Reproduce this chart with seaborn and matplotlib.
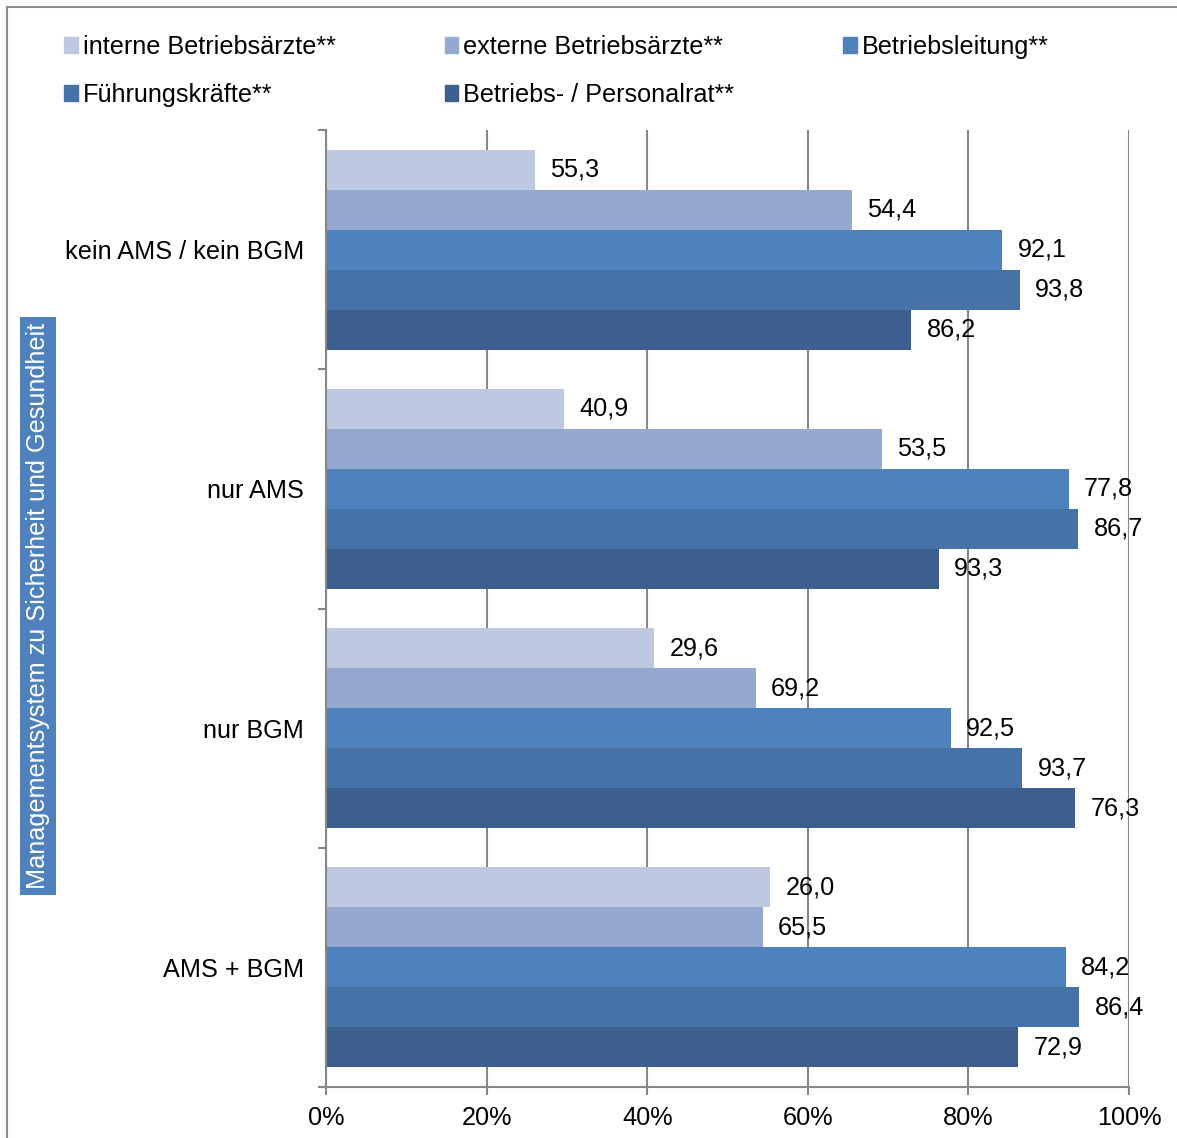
import numpy as np
import pandas as pd
import matplotlib
matplotlib.use("Agg")
import matplotlib.pyplot as plt
import matplotlib.patches as mpatches
import seaborn as sns

categories = ["kein AMS / kein BGM", "nur AMS", "nur BGM", "AMS + BGM"]
series = ["interne Betriebsärzte**", "externe Betriebsärzte**", "Betriebsleitung**",
          "Führungskräfte**", "Betriebs- / Personalrat**"]
colors = ["#BCC9E1", "#95A9D0", "#4F81BD", "#4572A7", "#3C5F8E"]

# values as printed next to the bars (per series, in category order)
interne = [55.3, 40.9, 29.6, 26.0]
externe = [54.4, 53.5, 69.2, 65.5]
leitung = [92.1, 77.8, 92.5, 84.2]
fuehrung = [93.8, 86.7, 93.7, 86.4]
rat = [86.2, 93.3, 76.3, 72.9]
printed = [interne, externe, leitung, fuehrung, rat]

# the original chart draws the bars in reversed category order vs. its labels
rows = []
for s, vals in zip(series, printed):
    for cat, v in zip(categories, vals[::-1]):
        rows.append({"group": cat, "series": s, "value": v})
df = pd.DataFrame(rows)

sns.set_theme(style="white")
plt.rcParams["font.family"] = ["Liberation Sans", "DejaVu Sans"]
plt.rcParams["text.color"] = "black"
plt.rcParams["xtick.color"] = "black"
plt.rcParams["ytick.color"] = "black"
grid_col = "#878787"
fs = 18.2

fig = plt.figure(figsize=(11.77, 11.38), dpi=100)
ax = fig.add_axes([326 / 1177, 1 - 1087 / 1138, (1129 - 326) / 1177, (1087 - 130) / 1138])

sns.barplot(data=df, x="value", y="group", hue="series", order=categories,
            hue_order=series, palette=colors, orient="h", width=0.836,
            linewidth=0, saturation=1, ax=ax, legend=False)

for cont, vals in zip(ax.containers, printed):
    ax.bar_label(cont, labels=[f"{v:.1f}".replace(".", ",") for v in vals],
                 padding=11, fontsize=fs, color="black")

ax.set_xlim(0, 100)
ax.set_ylim(3.5, -0.5)
ax.set_xticks(np.arange(0, 101, 20))
ax.set_xticklabels([f"{t}%" for t in range(0, 101, 20)], fontsize=fs)
ax.set_yticks(range(len(categories)))
ax.set_yticklabels(categories, fontsize=fs)
ax.set_yticks(np.arange(-0.5, 4, 1), minor=True)
ax.tick_params(axis="y", which="major", length=0, pad=16, labelcolor="black")
ax.tick_params(axis="y", which="minor", length=6, width=1.5, color=grid_col, left=True)
ax.tick_params(axis="x", length=6, width=1.5, color=grid_col, bottom=True, pad=8,
               labelcolor="black")
ax.set_xlabel("")
ax.set_ylabel("")
ax.grid(axis="x", color=grid_col, linewidth=1.5)
ax.set_axisbelow(True)
for side in ["top", "right"]:
    ax.spines[side].set_visible(False)
for side in ["left", "bottom"]:
    ax.spines[side].set_color(grid_col)
    ax.spines[side].set_linewidth(1.5)

# legend, row-major order as in the original
handles = [mpatches.Patch(color=c, label=s) for s, c in zip(series, colors)]
order = [0, 3, 1, 4, 2]
fig.legend([handles[i] for i in order], [series[i] for i in order],
           loc="upper left", bbox_to_anchor=(64 / 1177, 1 - 35 / 1138), ncol=3,
           frameon=False, fontsize=fs, handlelength=0.55, handleheight=0.55,
           handletextpad=0.2, columnspacing=4.3, labelspacing=0.95, borderpad=0,
           borderaxespad=0, labelcolor="black")

# y axis title in a blue box
fig.text(38 / 1177, 1 - 606 / 1138, "Managementsystem zu Sicherheit und Gesundheit",
         rotation=90, ha="center", va="center", fontsize=fs, color="white",
         bbox=dict(boxstyle="square,pad=0.25", facecolor="#4F81BD", edgecolor="none"))

# outer frame of the chart area
fig.add_artist(mpatches.Rectangle((6.5 / 1177, -0.05), 1.2, 1 - 7 / 1138 + 0.05,
                                  transform=fig.transFigure, fill=False,
                                  edgecolor="#8C8C8C", linewidth=1.5, clip_on=False))

fig.savefig("out.png", dpi=100)
